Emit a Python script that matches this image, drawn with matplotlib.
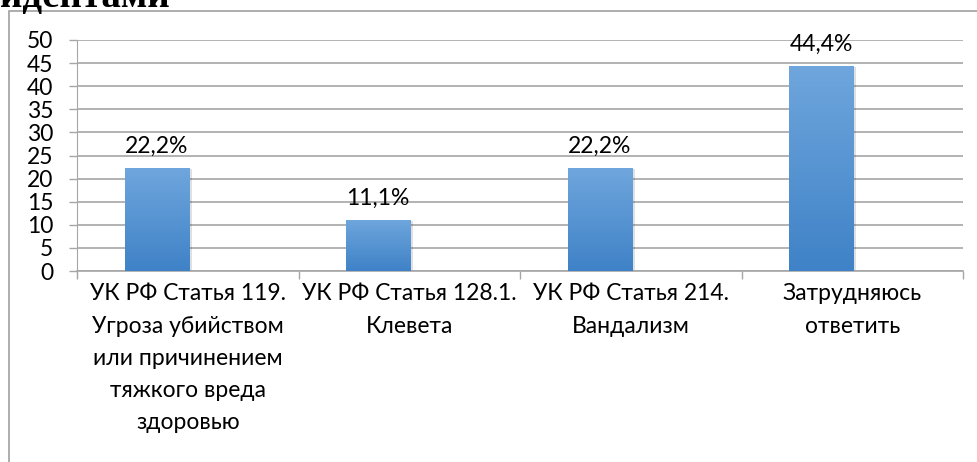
import numpy as np
import matplotlib

matplotlib.use("Agg")
import matplotlib.pyplot as plt
from matplotlib.colors import LinearSegmentedColormap
from matplotlib.patches import Rectangle

plt.rcParams["font.family"] = ["Lato", "DejaVu Sans"]

categories = [
    "УК РФ Статья 119.\nУгроза убийством\nили причинением\nтяжкого вреда\nздоровью",
    "УК РФ Статья 128.1.\nКлевета",
    "УК РФ Статья 214.\nВандализм",
    "Затрудняюсь\nответить",
]
values = [22.2, 11.1, 22.2, 44.4]
value_labels = ["22,2%", "11,1%", "22,2%", "44,4%"]
y_ticks = [0, 5, 10, 15, 20, 25, 30, 35, 40, 45, 50]

GRID = "#a6a6a6"
BAR_TOP = "#6fa6dd"
BAR_BOTTOM = "#3f82c7"
FS = 16.5

W, H = 977, 462
fig = plt.figure(figsize=(W / 100, H / 100), dpi=100, facecolor="white")

# heading of the page above the chart (cut by the top edge)
fig.text(0.0, 1 - 7 / H, "идентами", fontfamily="Liberation Serif",
         fontweight="bold", fontsize=28, va="baseline", ha="left")

# chart frame
fig.patches.append(Rectangle((9 / W, -0.1), 1.2, 1.1 - 11 / H,
                             transform=fig.transFigure, fill=False,
                             edgecolor="#a0a0a0", lw=1.2))

ax = fig.add_axes([77 / W, 1 - 271 / H, (963 - 77) / W, (271 - 40) / H])
ax.set_facecolor("none")

x = np.arange(len(categories))
offset, width = -0.14, 0.29
cmap = LinearSegmentedColormap.from_list("bar", [BAR_BOTTOM, BAR_TOP])
grad = np.linspace(0, 1, 256).reshape(-1, 1)

for xi, v, lab in zip(x, values, value_labels):
    left = xi + offset - width / 2
    # soft shadow
    ax.add_patch(Rectangle((left + 0.012, -0.4), width, v + 0.2,
                           facecolor="#000000", alpha=0.12, lw=0, zorder=2))
    bar = Rectangle((left, 0), width, v, facecolor="none", lw=0, zorder=3)
    ax.add_patch(bar)
    im = ax.imshow(grad, cmap=cmap, origin="lower", aspect="auto",
                   extent=(left, left + width, 0, v), zorder=3)
    im.set_clip_path(bar)
    ax.annotate(lab, (xi + offset, v), xytext=(0, 8), textcoords="offset points",
                ha="center", va="bottom", fontsize=FS)

ax.set_xlim(-0.5, len(categories) - 0.5)
ax.set_ylim(0, 50)
ax.set_yticks(y_ticks)
ax.tick_params(axis="y", length=6, color=GRID, width=1, labelsize=FS, pad=11)
ax.yaxis.grid(True, color=GRID, lw=1.2, zorder=0)
ax.set_axisbelow(True)

ax.set_xticks(x)
ax.set_xticklabels(categories, fontsize=FS, linespacing=1.66)
ax.set_xticks(np.arange(-0.5, len(categories)), minor=True)
ax.tick_params(axis="x", which="major", length=0, pad=9)
ax.tick_params(axis="x", which="minor", length=6, color=GRID, width=1)

for side in ["top", "right"]:
    ax.spines[side].set_visible(False)
ax.spines["left"].set_color(GRID)
ax.spines["left"].set_bounds(-1.5, 50)
ax.spines["bottom"].set_color(GRID)
ax.spines["bottom"].set_linewidth(1.2)

fig.savefig("out.png", dpi=100)
